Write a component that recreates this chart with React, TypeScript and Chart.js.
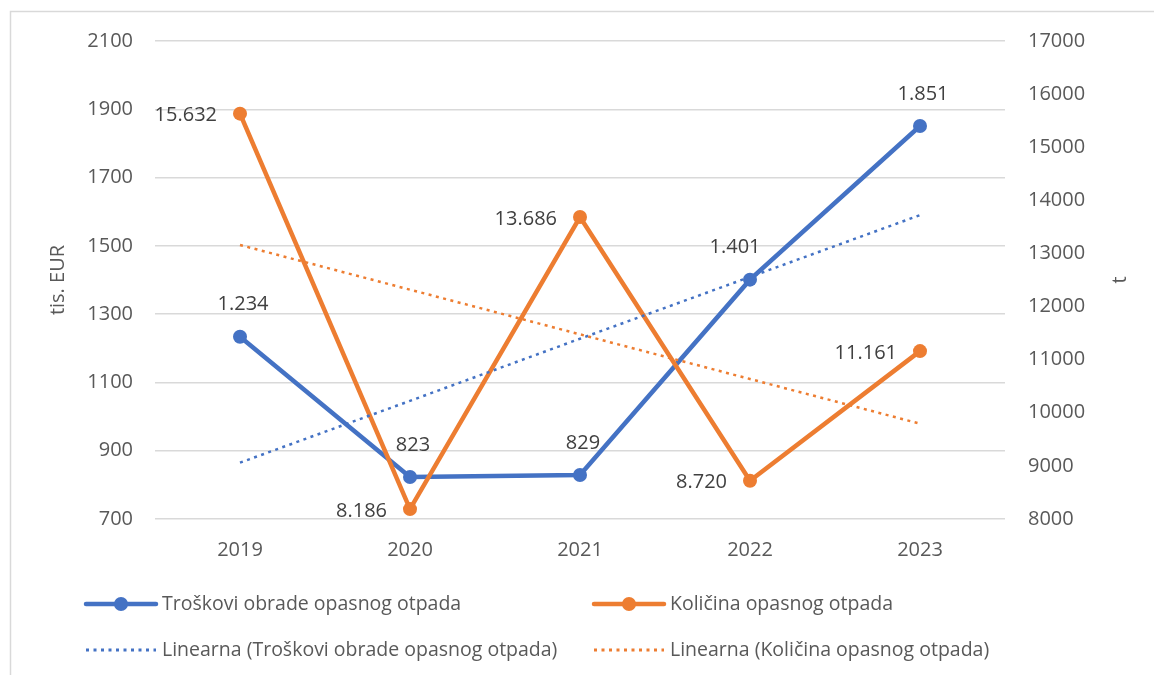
import React, { useEffect, useRef } from 'react';
import { Chart, registerables } from 'chart.js';

Chart.register(...registerables);

const years = ['2019', '2020', '2021', '2022', '2023'];
const costValues = [1234, 823, 829, 1401, 1851];
const quantityValues = [15632, 8186, 13686, 8720, 11161];
const costTrendValues = [865, 1046, 1228, 1409, 1590];
const quantityTrendValues = [13159, 12318, 11477, 10636, 9795];
const costLabel = 'Troškovi obrade opasnog otpada';
const quantityLabel = 'Količina opasnog otpada';
const costTrendLabel = 'Linearna (Troškovi obrade opasnog otpada)';
const quantityTrendLabel = 'Linearna (Količina opasnog otpada)';
const leftAxisTitle = 'tis. EUR';
const rightAxisTitle = 't';
const leftMin = 700, leftMax = 2100, leftStep = 200;
const rightMin = 8000, rightMax = 17000, rightStep = 1000;

const BLUE = '#4472C4';
const ORANGE = '#ED7D31';
const TEXT = '#595959';
const LABEL = '#404040';
const GRID = '#D9D9D9';
const FONT = "'Open Sans', sans-serif";
const W = 1154, H = 675;

const fmt = (n: number) => String(n).replace(/\B(?=(\d{3})+(?!\d))/g, '.');

const framePlugin = {
  id: 'frame',
  beforeDraw(chart: any) {
    const ctx = chart.ctx;
    ctx.save();
    ctx.fillStyle = '#ffffff';
    ctx.fillRect(0, 0, W, H);
    ctx.strokeStyle = GRID;
    ctx.lineWidth = 1.5;
    ctx.beginPath();
    ctx.moveTo(10.5, H);
    ctx.lineTo(10.5, 11.5);
    ctx.lineTo(W, 11.5);
    ctx.stroke();
    ctx.restore();
  },
};

const rightTitlePlugin = {
  id: 'rightTitle',
  afterDraw(chart: any) {
    const ctx = chart.ctx;
    const area = chart.chartArea;
    ctx.save();
    ctx.translate(1120, (area.top + area.bottom) / 2);
    ctx.rotate(-Math.PI / 2);
    ctx.font = `20px ${FONT}`;
    ctx.fillStyle = TEXT;
    ctx.textAlign = 'center';
    ctx.textBaseline = 'middle';
    ctx.fillText(rightAxisTitle, 0, 0);
    ctx.restore();
  },
};

const valueLabelPlugin = {
  id: 'valueLabels',
  afterDatasetsDraw(chart: any) {
    const ctx = chart.ctx;
    ctx.save();
    ctx.font = `20px ${FONT}`;
    ctx.fillStyle = LABEL;
    ctx.textBaseline = 'middle';
    const m0 = chart.getDatasetMeta(0);
    m0.data.forEach((pt: any, i: number) => {
      ctx.textAlign = 'center';
      const dx = i === 3 ? -15 : 3;
      ctx.fillText(fmt(costValues[i]), pt.x + dx, pt.y - 32);
    });
    const m1 = chart.getDatasetMeta(1);
    m1.data.forEach((pt: any, i: number) => {
      ctx.textAlign = 'right';
      ctx.fillText(fmt(quantityValues[i]), pt.x - 23, pt.y + 2);
    });
    ctx.restore();
  },
};

const legendPlugin = {
  id: 'customLegend',
  afterDraw(chart: any) {
    const ctx = chart.ctx;
    const items = [
      { text: costLabel, color: BLUE, dotted: false, x: 86, y: 604 },
      { text: quantityLabel, color: ORANGE, dotted: false, x: 594, y: 604 },
      { text: costTrendLabel, color: BLUE, dotted: true, x: 86, y: 650 },
      { text: quantityTrendLabel, color: ORANGE, dotted: true, x: 594, y: 650 },
    ];
    ctx.save();
    items.forEach((it) => {
      const len = 70;
      ctx.strokeStyle = it.color;
      ctx.fillStyle = it.color;
      if (it.dotted) {
        ctx.lineWidth = 3;
        ctx.setLineDash([3, 4.5]);
        ctx.lineCap = 'butt';
      } else {
        ctx.lineWidth = 4.5;
        ctx.setLineDash([]);
        ctx.lineCap = 'round';
      }
      ctx.beginPath();
      ctx.moveTo(it.x, it.y);
      ctx.lineTo(it.x + len, it.y);
      ctx.stroke();
      ctx.setLineDash([]);
      if (!it.dotted) {
        ctx.beginPath();
        ctx.arc(it.x + len / 2, it.y, 7, 0, Math.PI * 2);
        ctx.fill();
      }
      ctx.font = `19.5px ${FONT}`;
      ctx.fillStyle = TEXT;
      ctx.textAlign = 'left';
      ctx.textBaseline = 'middle';
      ctx.fillText(it.text, it.x + len + 6, it.y);
    });
    ctx.restore();
  },
};

export default function App() {
  const ref = useRef<HTMLCanvasElement | null>(null);

  useEffect(() => {
    if (!ref.current) return;
    const tickFont = { family: FONT, size: 20 };
    const plain = (v: any) => String(v);
    const chart = new Chart(ref.current, {
      type: 'line',
      data: {
        labels: years,
        datasets: [
          {
            label: costLabel,
            data: costValues,
            yAxisID: 'y',
            borderColor: BLUE,
            backgroundColor: BLUE,
            borderWidth: 4.5,
            pointRadius: 7,
            pointBorderWidth: 0,
            pointBackgroundColor: BLUE,
            tension: 0,
            order: 3,
          },
          {
            label: quantityLabel,
            data: quantityValues,
            yAxisID: 'y1',
            borderColor: ORANGE,
            backgroundColor: ORANGE,
            borderWidth: 4.5,
            pointRadius: 7,
            pointBorderWidth: 0,
            pointBackgroundColor: ORANGE,
            tension: 0,
            order: 2,
          },
          {
            label: costTrendLabel,
            data: costTrendValues,
            yAxisID: 'y',
            borderColor: BLUE,
            borderWidth: 2.5,
            borderDash: [3, 4.5],
            pointRadius: 0,
            tension: 0,
            order: 1,
          },
          {
            label: quantityTrendLabel,
            data: quantityTrendValues,
            yAxisID: 'y1',
            borderColor: ORANGE,
            borderWidth: 2.5,
            borderDash: [3, 4.5],
            pointRadius: 0,
            tension: 0,
            order: 0,
          },
        ],
      },
      options: {
        responsive: false,
        animation: false,
        layout: { padding: { left: 0, right: 0, top: 41, bottom: 0 } },
        plugins: {
          legend: { display: false },
          tooltip: { enabled: false },
        },
        scales: {
          x: {
            offset: true,
            grid: { display: false, drawTicks: false },
            border: { display: false },
            ticks: { font: tickFont, color: TEXT, padding: 19 },
            afterFit: (s: any) => { s.height = H - 519; },
          },
          y: {
            position: 'left',
            min: leftMin,
            max: leftMax,
            grid: { color: GRID, lineWidth: 1.5, drawTicks: false },
            border: { display: false },
            ticks: { stepSize: leftStep, font: tickFont, color: TEXT, padding: 22, callback: plain },
            title: {
              display: true,
              text: leftAxisTitle,
              font: { family: FONT, size: 20 },
              color: TEXT,
              padding: { top: 46, bottom: 0 },
            },
            afterFit: (s: any) => { s.width = 155; },
          },
          y1: {
            position: 'right',
            min: rightMin,
            max: rightMax,
            grid: { display: false, drawTicks: false },
            border: { display: false },
            ticks: { stepSize: rightStep, font: tickFont, color: TEXT, padding: 23, callback: plain },
            afterFit: (s: any) => { s.width = W - 1005; },
          },
        },
      },
      plugins: [framePlugin, valueLabelPlugin, legendPlugin, rightTitlePlugin],
    } as any);
    return () => chart.destroy();
  }, []);

  return (
    <canvas
      ref={ref}
      width={W}
      height={H}
      style={{ position: 'absolute', left: 0, top: 0, width: W, height: H }}
    />
  );
}
